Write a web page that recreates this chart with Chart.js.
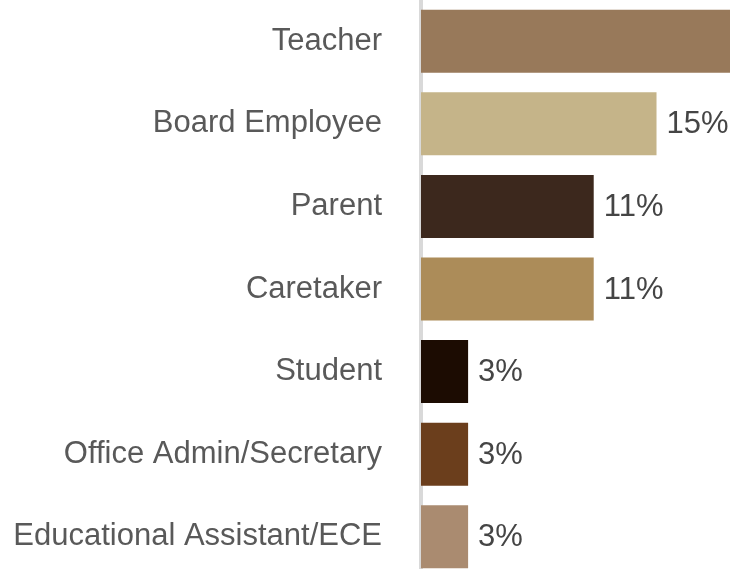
<!DOCTYPE html>
<html>
<head>
<meta charset="utf-8">
<script src="https://cdn.jsdelivr.net/npm/chart.js@4/dist/chart.umd.min.js"></script>
<style>
  html, body { margin: 0; padding: 0; background: #fff; overflow: hidden; }
  #wrap { width: 730px; height: 569px; overflow: hidden; }
</style>
</head>
<body>
<div id="wrap"><canvas id="roles" width="730" height="578"></canvas></div>
<script>
var categories = ['Teacher', 'Board Employee', 'Parent', 'Caretaker', 'Student', 'Office Admin/Secretary', 'Educational Assistant/ECE'];
var percents = [54, 15, 11, 11, 3, 3, 3];
var barColors = ['#98795a', '#c5b489', '#3c281d', '#ac8c59', '#1c0c02', '#6b3e1c', '#aa8b70'];

// draws "15%" etc. to the right of each bar (skipped if it would fall off the chart)
var valueLabels = {
  id: 'valueLabels',
  afterDatasetsDraw: function (chart) {
    var ctx = chart.ctx;
    var meta = chart.getDatasetMeta(0);
    ctx.save();
    ctx.font = '31px "Liberation Sans", Arial, sans-serif';
    ctx.fillStyle = '#454545';
    ctx.textAlign = 'left';
    ctx.textBaseline = 'middle';
    meta.data.forEach(function (bar, i) {
      var x = bar.x + 10;
      if (x > chart.chartArea.right - 20) return;
      ctx.fillText(percents[i] + '%', x, bar.y + 1);
    });
    ctx.restore();
  }
};

var ctx = document.getElementById('roles').getContext('2d');
var chart = new Chart(ctx, {
  type: 'bar',
  data: {
    labels: categories,
    datasets: [
      {
        data: percents,
        backgroundColor: barColors,
        barPercentage: 0.763,
        categoryPercentage: 1,
      },
    ],
  },
  options: {
    indexAxis: 'y',
    responsive: false,
    maintainAspectRatio: false,
    animation: false,
    layout: { padding: 0 },
    plugins: {
      legend: { display: false },
      tooltip: { enabled: false },
    },
    scales: {
      x: {
        display: false,
        min: 0,
        max: 19.68,
      },
      y: {
        afterFit: function (scale) {
          scale.width = 421;
          scale.paddingTop = 0;
          scale.paddingBottom = 0;
        },
        grid: { display: false, drawTicks: false },
        border: { display: true, color: '#d9d9d9', width: 4 },
        ticks: {
          padding: 39,
          color: '#595959',
          font: { family: '"Liberation Sans", Arial, sans-serif', size: 31 },
        },
      },
    },
  },
  plugins: [valueLabels],
});
</script>
</body>
</html>
